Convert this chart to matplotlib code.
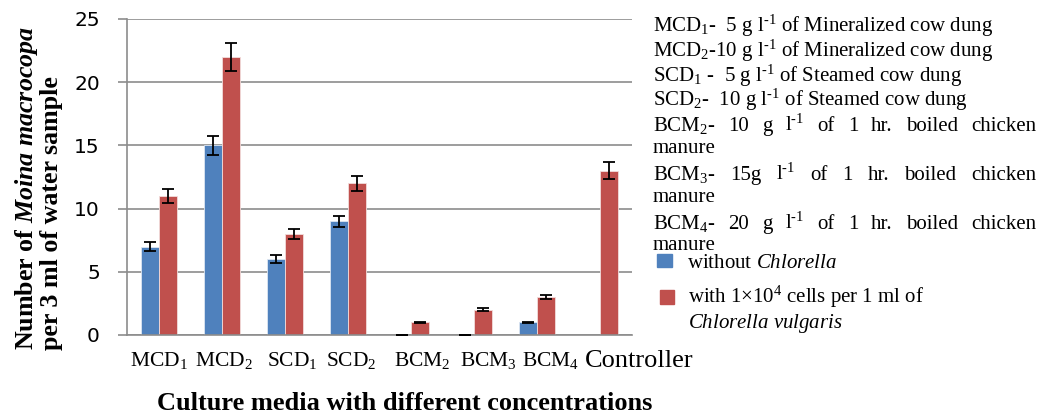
import numpy as np
import matplotlib
matplotlib.use("Agg")
import matplotlib.pyplot as plt
import matplotlib.transforms as mtransforms
from matplotlib.patches import Rectangle

# ── data ────────────────────────────────────────────────────────────────────
categories = [r"MCD$_1$", r"MCD$_2$", r"SCD$_1$", r"SCD$_2$",
              r"BCM$_2$", r"BCM$_3$", r"BCM$_4$", "Controller"]
without_chl     = [7, 15, 6, 9, 0, 0, 1, 0]
without_chl_err = [0.35, 0.75, 0.3, 0.45, 0.0, 0.0, 0.05, np.nan]
with_chl        = [11, 22, 8, 12, 1, 2, 3, 13]
with_chl_err    = [0.55, 1.1, 0.4, 0.6, 0.05, 0.1, 0.15, 0.65]

INV = r"$^{\text{-}1}$"
legend_lines = [
    r"MCD$_1$-  5 g l" + INV + " of Mineralized cow dung",
    r"MCD$_2$-10 g l" + INV + " of Mineralized cow dung",
    r"SCD$_1$ -  5 g l" + INV + " of Steamed cow dung",
    r"SCD$_2$-  10 g l" + INV + " of Steamed cow dung",
]
legend_justified = [
    [r"BCM$_2$-", "10", "g", "l" + INV, "of", "1", "hr.", "boiled", "chicken"],
    [r"BCM$_3$-", "15g", "l" + INV, "of", "1", "hr.", "boiled", "chicken"],
    [r"BCM$_4$-", "20", "g", "l" + INV, "of", "1", "hr.", "boiled", "chicken"],
]

BLUE = "#4f81bd"
RED = "#c0504d"
GRID = "#8c8c8c"
SERIF = "Liberation Serif"

plt.rcParams["mathtext.fontset"] = "custom"
plt.rcParams["mathtext.rm"] = SERIF
plt.rcParams["mathtext.it"] = SERIF + ":italic"
plt.rcParams["mathtext.bf"] = SERIF + ":bold"
plt.rcParams["mathtext.bfit"] = SERIF + ":italic:bold"

W, H = 1044, 416
fig = plt.figure(figsize=(W / 100, H / 100), dpi=100)


def fx(x):
    return x / W


def fy(y):
    return 1 - y / H


ax = fig.add_axes([fx(127), fy(335), fx(632) - fx(127), fy(19) - fy(335)])

x = np.arange(len(categories))
w = 0.285
ax.bar(x - w / 2, without_chl, w, color=BLUE, edgecolor="#dce6f2", lw=0.6, zorder=2)
ax.bar(x + w / 2, with_chl, w, color=RED, edgecolor="#f2dcdb", lw=0.6, zorder=2)
ax.errorbar(x - w / 2, without_chl, yerr=without_chl_err, fmt="none",
            ecolor="black", elinewidth=1.3, capsize=4, capthick=1.3, zorder=3)
ax.errorbar(x + w / 2, with_chl, yerr=with_chl_err, fmt="none",
            ecolor="black", elinewidth=1.3, capsize=4, capthick=1.3, zorder=3)

ax.set_xlim(-0.5, len(categories) - 0.5)
ax.set_ylim(0, 25)
ax.set_yticks(range(0, 26, 5))
ax.yaxis.grid(True, color=GRID, lw=1.2)
ax.set_axisbelow(True)
for s in ["top", "right"]:
    ax.spines[s].set_visible(False)
for s in ["left", "bottom"]:
    ax.spines[s].set_color(GRID)
    ax.spines[s].set_linewidth(1.2)

ax.tick_params(axis="y", length=6.5, width=1.2, color=GRID, pad=13,
               labelsize=14.5)
for lab in ax.get_yticklabels():
    lab.set_family("DejaVu Sans")

# category labels sit a little right of the groups in the original
label_shift = [0, 2, 8, 3, 11, 14, 13, 39]
ax.set_xticks(x)
ax.set_xticklabels(categories)
ax.tick_params(axis="x", length=0, pad=11)
for lab, dx in zip(ax.get_xticklabels(), label_shift):
    lab.set_family(SERIF)
    lab.set_fontsize(19 if lab.get_text() == "Controller" else 15.5)
    lab.set_transform(lab.get_transform() +
                      mtransforms.ScaledTranslation(dx / 100, 0, fig.dpi_scale_trans))

fig.text(fx(38), fy(188),
         r"Number of $\mathbfit{Moina\ macrocopa}$" + "\nper 3 ml of water sample",
         rotation=90, ha="center", va="center", multialignment="left",
         family=SERIF, fontweight="bold", fontsize=18.7, linespacing=1.05)
fig.text(fx(405), fy(403), "Culture media with different concentrations",
         ha="center", va="center", family=SERIF, fontweight="bold", fontsize=19)

# ── key text on the right ───────────────────────────────────────────────────
TX0, TX1 = 653, 1036
LFS = 15
baselines = [32, 57, 82, 106, 131, 153, 180, 202, 229, 250]

for txt, yb in zip(legend_lines, baselines[:4]):
    fig.text(fx(TX0), fy(yb), txt, family=SERIF, fontsize=LFS, va="baseline")

renderer = fig.canvas.get_renderer()


def justified(words, y):
    texts = [fig.text(0, fy(y), wd, family=SERIF, fontsize=LFS, va="baseline")
             for wd in words]
    widths = [t.get_window_extent(renderer).width for t in texts]
    gap = (TX1 - TX0 - sum(widths)) / (len(words) - 1)
    xp = TX0
    for t, wd in zip(texts, widths):
        t.set_x(fx(xp))
        xp += wd + gap


for i, words in enumerate(legend_justified):
    justified(words, baselines[4 + 2 * i])
    fig.text(fx(TX0), fy(baselines[5 + 2 * i]), "manure", family=SERIF,
             fontsize=LFS, va="baseline")

fig.add_artist(Rectangle((fx(657), fy(267)), fx(15), 13 / H, color=BLUE,
                         transform=fig.transFigure))
fig.add_artist(Rectangle((fx(660), fy(304)), fx(14), 14 / H, color=RED,
                         transform=fig.transFigure))
fig.text(fx(687), fy(268), r"without $\mathit{Chlorella}$", family=SERIF,
         fontsize=LFS, va="baseline")
fig.text(fx(688), fy(303), r"with 1×10$^4$ cells per 1 ml of", family=SERIF,
         fontsize=LFS, va="baseline")
fig.text(fx(688), fy(328), r"$\mathit{Chlorella\ vulgaris}$", family=SERIF,
         fontsize=LFS, va="baseline")

fig.savefig("out.png", dpi=100)
